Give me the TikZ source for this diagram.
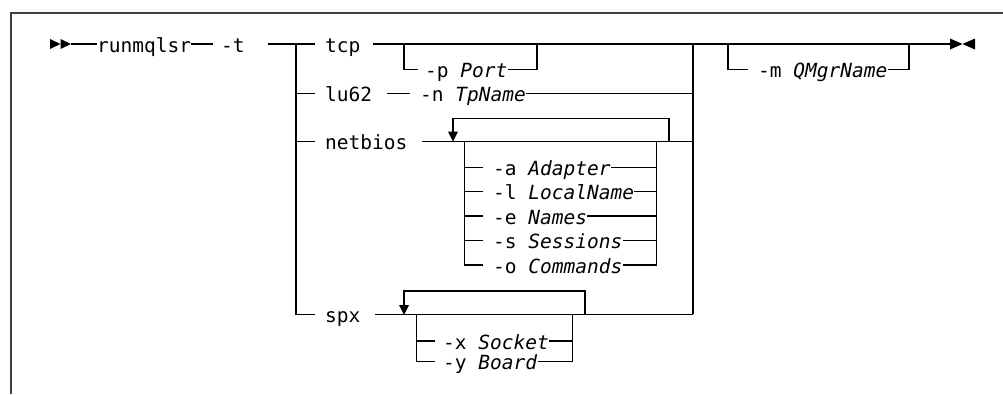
\documentclass[tikz,border=0pt]{standalone}
\usepackage{fontspec}
\setmonofont{DejaVu Sans Mono}[ItalicFont={DejaVu Sans Mono Oblique}]
\begin{document}
\begin{tikzpicture}[x=1pt,y=-1pt,
  lbl/.style={anchor=west,inner sep=0pt,text height=16pt,text depth=0pt,
              font=\ttfamily\fontsize{19.5}{20}\selectfont},
  rail/.style={line width=1.2pt,black},
  frameline/.style={line width=2pt,black!75},
  tip/.style={fill=black}]
\useasboundingbox (0,0) rectangle (1003,394);
% frame
\draw[frameline] (1003,12.7) -- (11,12.7) -- (11,394);

% start symbol
\fill[tip] (50,39) -- (60.5,44) -- (50,49) -- cycle;
\fill[tip] (60.5,39) -- (71,44) -- (60.5,49) -- cycle;
\coordinate (s) at (71,44);

\node[lbl] (run) at (97,44) {runmqlsr};
\coordinate (r1) at (213,44);
\node[lbl] (t) at (221,44) {-t};
\coordinate (t1) at (268,44);
\coordinate (jl) at (296,44);
\draw[rail] (s) -- (run.west);
\draw[rail] (run.east) -- (r1);

% left branch rail
\coordinate (tk0) at (315,44);
\coordinate (jl1) at (296,93.3);
\coordinate (jl2) at (296,141.7);
\coordinate (jl3) at (296,314.3);
\draw[rail] (t1) -- (tk0);
\draw[rail] (jl) -- (jl3) -- (315,314.3);
\draw[rail] (jl1) -- (315,93.3);
\draw[rail] (jl2) -- (315,141.7);

% right merge rail
\coordinate (jr) at (693,44);
\coordinate (jr1) at (693,93.3);
\coordinate (jr2) at (693,141.7);
\coordinate (jr3) at (693,314.3);
\draw[rail] (jr) -- (jr3);

% tcp
\node[lbl] (tcp) at (325,44) {tcp};
\coordinate (tcp1) at (373,44);
\draw[rail] (tcp1) -- (jr);
\coordinate (pL) at (404,44);
\coordinate (pR) at (537,44);
\node[lbl] (port) at (425,69.3) {-p \textit{Port}};
\draw[rail] (pL) |- (418,69.3);
\draw[rail] (port.east) -| (pR);

% lu62
\node[lbl] (lu) at (325,93.3) {lu62};
\node[lbl] (tp) at (420,93.3) {-n \textit{TpName}};
\draw[rail] (387,93.3) -- (410,93.3);
\draw[rail] (tp.east) -- (jr1);

% netbios
\node[lbl] (nb) at (325,141.7) {netbios};
\coordinate (nb1) at (422,141.7);
\draw[rail] (nb1) -- (jr2);
\coordinate (nbA) at (453,141.7);
\coordinate (nbR) at (669,141.7);
\draw[rail] (nbR) |- (453,118.3) -- (453,132);
\fill[tip] (448,131.5) -- (458,131.5) -- (nbA) -- cycle;
\coordinate (nbL) at (464.3,141.7);
\coordinate (nbE) at (656.7,141.7);
\draw[rail] (nbL) |- (482.7,265);
\draw[rail] (nbE) -- (656.7,265);
\foreach \y/\n/\txt in {167.7/a/{-a \textit{Adapter}},191.7/l/{-l \textit{LocalName}},216/e/{-e \textit{Names}},240.7/s/{-s \textit{Sessions}},265/o/{-o \textit{Commands}}}{
  \node[lbl] (nb\n) at (493,\y) {\txt};
  \draw[rail] (464.3,\y) -- (482.7,\y);
  \draw[rail] (nb\n.east) -- (656.7,\y);
}

% spx
\node[lbl] (spx) at (325,314.3) {spx};
\coordinate (sp1) at (375,314.3);
\draw[rail] (sp1) -- (jr3);
\coordinate (spA) at (404,314.3);
\coordinate (spR) at (585,314.3);
\draw[rail] (spR) |- (404,291) -- (404,305);
\fill[tip] (399,305) -- (409,305) -- (404,315) -- cycle;
\coordinate (spL) at (416.7,314.3);
\coordinate (spE) at (572.7,314.3);
\draw[rail] (spL) |- (435,361.7);
\draw[rail] (spE) -- (572.7,361.7);
\foreach \y/\n/\txt in {341/x/{-x \textit{Socket}},361.7/y/{-y \textit{Board}}}{
  \node[lbl] (sp\n) at (443,\y) {\txt};
  \draw[rail] (416.7,\y) -- (435,\y);
  \draw[rail] (sp\n.east) -- (572.7,\y);
}

% after merge
\coordinate (e) at (950,44);
\draw[rail] (jr) -- (e);
\coordinate (mL) at (728,44);
\coordinate (mR) at (909,44);
\node[lbl] (qm) at (758,69.3) {-m \textit{QMgrName}};
\draw[rail] (mL) |- (748,69.3);
\draw[rail] (qm.east) -| (mR);

% end symbol
\fill[tip] (950,38.5) -- (962.5,44) -- (950,49.5) -- cycle;
\fill[tip] (975,38.5) -- (962.5,44) -- (975,49.5) -- cycle;
\end{tikzpicture}
\end{document}
